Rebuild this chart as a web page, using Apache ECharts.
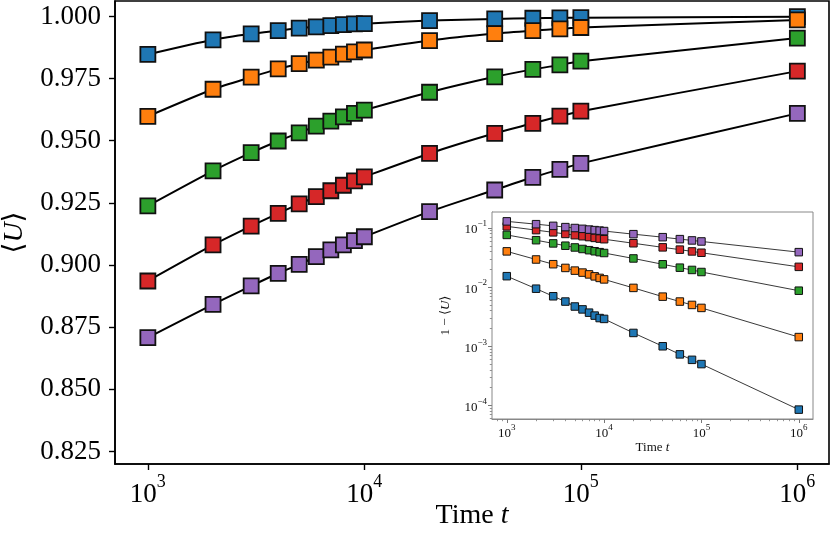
<!DOCTYPE html>
<html><head><meta charset="utf-8">
<script src="https://cdn.jsdelivr.net/npm/echarts@6/dist/echarts.min.js"></script>
<style>html,body{margin:0;padding:0;background:#fff}#c{width:831px;height:536px}</style>
</head><body><div id="c"></div>
<script>
// ---- data ----
const times = [1e3, 2e3, 3e3, 4e3, 5e3, 6e3, 7e3, 8e3, 9e3, 1e4, 2e4, 4e4, 6e4, 8e4, 1e5, 1e6];
// deficit 1 - <U> for each series
const deficitBlue   = [0.0153, 0.0094, 0.0070, 0.0057, 0.0047, 0.0042, 0.0037, 0.0033, 0.0030, 0.0029, 0.00168, 0.00100, 0.00073, 0.00059, 0.00050, 0.000085];
const deficitOrange = [0.0402, 0.0293, 0.0244, 0.0211, 0.0190, 0.0176, 0.0164, 0.0152, 0.0143, 0.0135, 0.0097, 0.0069, 0.0057, 0.0050, 0.00445, 0.00143];
const deficitGreen  = [0.0762, 0.0621, 0.0548, 0.0501, 0.0468, 0.0441, 0.0421, 0.0404, 0.0390, 0.0377, 0.0305, 0.0243, 0.0213, 0.0195, 0.0180, 0.0087];
const deficitRed    = [0.1064, 0.0919, 0.0843, 0.0792, 0.0754, 0.0725, 0.0701, 0.0679, 0.0661, 0.0645, 0.0551, 0.0470, 0.0430, 0.0401, 0.0381, 0.0220];
const deficitPurple = [0.1292, 0.1158, 0.1084, 0.1033, 0.0997, 0.0966, 0.0939, 0.0919, 0.0902, 0.0886, 0.0785, 0.0698, 0.0647, 0.0615, 0.0591, 0.0390];
const colors = ['#1f77b4', '#ff7f0e', '#2ca02c', '#d62728', '#9467bd'];
const mainYTicks = [0.825, 0.850, 0.875, 0.900, 0.925, 0.950, 0.975, 1.000];
const xTicks = [1e3, 1e4, 1e5, 1e6];
const xMinorTicks = [8e2, 9e2, 2e3, 3e3, 4e3, 5e3, 6e3, 7e3, 8e3, 9e3, 2e4, 3e4, 4e4, 5e4, 6e4, 7e4, 8e4, 9e4, 2e5, 3e5, 4e5, 5e5, 6e5, 7e5, 8e5, 9e5];
const insetYTicks = [1e-4, 1e-3, 1e-2, 1e-1];
const yMinorTicks = [6e-5, 7e-5, 8e-5, 9e-5, 2e-4, 3e-4, 4e-4, 5e-4, 6e-4, 7e-4, 8e-4, 9e-4, 2e-3, 3e-3, 4e-3, 5e-3, 6e-3, 7e-3, 8e-3, 9e-3, 2e-2, 3e-2, 4e-2, 5e-2, 6e-2, 7e-2, 8e-2, 9e-2];

const FF = '"Liberation Serif", "DejaVu Serif", serif';
const allDef = [deficitBlue, deficitOrange, deficitGreen, deficitRed, deficitPurple];

function sup(v) {
  const e = Math.round(Math.log10(v));
  return '{b|10}{s|' + (e < 0 ? '\u2212' + (-e) : e) + '}';
}

const chart = echarts.init(document.getElementById('c'), null, {renderer: 'canvas'});

const mainSeries = allDef.map((d, i) => ({
  type: 'line', xAxisIndex: 0, yAxisIndex: 0,
  data: times.map((t, k) => [t, 1 - d[k]]),
  smooth: 0.25,
  symbol: 'rect', symbolSize: 15, showSymbol: true,
  lineStyle: {color: '#000', width: 2},
  itemStyle: {color: colors[i], borderColor: '#111', borderWidth: 1.8},
  silent: true, z: 2
}));
const insetSeries = allDef.map((d, i) => ({
  type: 'line', xAxisIndex: 1, yAxisIndex: 1,
  data: times.map((t, k) => [t, d[k]]),
  symbol: 'rect', symbolSize: 7.5, showSymbol: true,
  lineStyle: {color: '#222', width: 0.9},
  itemStyle: {color: colors[i], borderColor: '#111', borderWidth: 1},
  silent: true, z: 5
}));

chart.setOption({
  animation: false,
  backgroundColor: '#fff',
  grid: [
    {left: 115, right: 2, top: 1, bottom: 72, show: true, borderColor: '#000', borderWidth: 1.6, z: 0,
     containLabel: false, outerBoundsMode: 'none'},
    {left: 492, top: 212, width: 321, height: 207, show: true, borderColor: '#888', borderWidth: 1, backgroundColor: '#fff', z: 4,
     containLabel: false, outerBoundsMode: 'none'}
  ],
  xAxis: [
    {
      type: 'log', gridIndex: 0, position: 'bottom', min: 705, max: 1.40e6,
      axisLine: {show: true, lineStyle: {color: '#000', width: 1.6}},
      axisTick: {show: true, customValues: xTicks, length: 6, lineStyle: {color: '#000', width: 1.4}},
      minorTick: {show: false}, splitLine: {show: false},
      axisLabel: {
        customValues: xTicks, margin: 9, formatter: sup, color: '#000',
        rich: {
          b: {fontSize: 27, fontFamily: FF, color: '#000', lineHeight: 35, verticalAlign: 'bottom'},
          s: {fontSize: 18, fontFamily: FF, color: '#000', verticalAlign: 'top'}
        }
      },
      name: 'Time {i|t}', nameLocation: 'middle', nameGap: 38, nameMoveOverlap: false,
      nameTextStyle: {fontSize: 28, fontFamily: FF, color: '#000',
        rich: {i: {fontSize: 28, fontFamily: FF, fontStyle: 'italic', color: '#000'}}}
    },
    {
      type: 'log', gridIndex: 1, position: 'bottom', min: 705, max: 1.40e6,
      axisLine: {show: true, lineStyle: {color: '#888', width: 1}},
      axisTick: {show: true, customValues: xTicks, length: 4, lineStyle: {color: '#777', width: 1}},
      minorTick: {show: false}, splitLine: {show: false},
      axisLabel: {
        customValues: xTicks, margin: 4, formatter: sup,
        rich: {
          b: {fontSize: 13, fontFamily: FF, color: '#111', lineHeight: 17, verticalAlign: 'bottom'},
          s: {fontSize: 9, fontFamily: FF, color: '#111', verticalAlign: 'top'}
        }
      },
      name: 'Time {i|t}', nameLocation: 'middle', nameGap: 22,
      nameTextStyle: {fontSize: 13, fontFamily: FF, color: '#111',
        rich: {i: {fontSize: 13, fontFamily: FF, fontStyle: 'italic', color: '#111'}}}
    },
    {
      type: 'log', gridIndex: 1, position: 'bottom', min: 705, max: 1.40e6,
      axisLine: {show: false},
      axisTick: {show: true, customValues: xMinorTicks, length: 2.2, lineStyle: {color: '#777', width: 0.8}},
      axisLabel: {show: false}, splitLine: {show: false}
    }
  ],
  yAxis: [
    {
      type: 'value', gridIndex: 0, position: 'left', min: 0.82, max: 1.0062,
      axisLine: {show: true, lineStyle: {color: '#000', width: 1.6}},
      axisTick: {show: true, customValues: mainYTicks, length: 6, lineStyle: {color: '#000', width: 1.4}},
      splitLine: {show: false},
      axisLabel: {customValues: mainYTicks, margin: 14, fontSize: 27, fontFamily: FF, color: '#000',
        formatter: v => v.toFixed(3)},
      name: '\u27E8{i|U}\u27E9', nameLocation: 'middle', nameGap: 86, nameRotate: 90,
      nameTextStyle: {fontSize: 28, fontFamily: FF, color: '#000',
        rich: {i: {fontSize: 28, fontFamily: FF, fontStyle: 'italic', color: '#000'}}}
    },
    {
      type: 'log', gridIndex: 1, position: 'left', min: 5.9e-5, max: 0.186,
      axisLine: {show: true, lineStyle: {color: '#888', width: 1}},
      axisTick: {show: true, customValues: insetYTicks, length: 4, lineStyle: {color: '#777', width: 1}},
      minorTick: {show: false}, splitLine: {show: false},
      axisLabel: {
        customValues: insetYTicks, margin: 5, formatter: sup,
        rich: {
          b: {fontSize: 13, fontFamily: FF, color: '#111', lineHeight: 17, verticalAlign: 'bottom'},
          s: {fontSize: 9, fontFamily: FF, color: '#111', verticalAlign: 'top'}
        }
      },
      name: '1 \u2212 \u27E8{i|U}\u27E9', nameLocation: 'middle', nameGap: 40, nameRotate: 90,
      nameTextStyle: {fontSize: 13, fontFamily: FF, color: '#111',
        rich: {i: {fontSize: 13, fontFamily: FF, fontStyle: 'italic', color: '#111'}}}
    },
    {
      type: 'log', gridIndex: 1, position: 'left', min: 5.9e-5, max: 0.186,
      axisLine: {show: false},
      axisTick: {show: true, customValues: yMinorTicks, length: 2.2, lineStyle: {color: '#777', width: 0.8}},
      axisLabel: {show: false}, splitLine: {show: false}
    }
  ],
  series: mainSeries.concat(insetSeries)
});
</script>
</body></html>
